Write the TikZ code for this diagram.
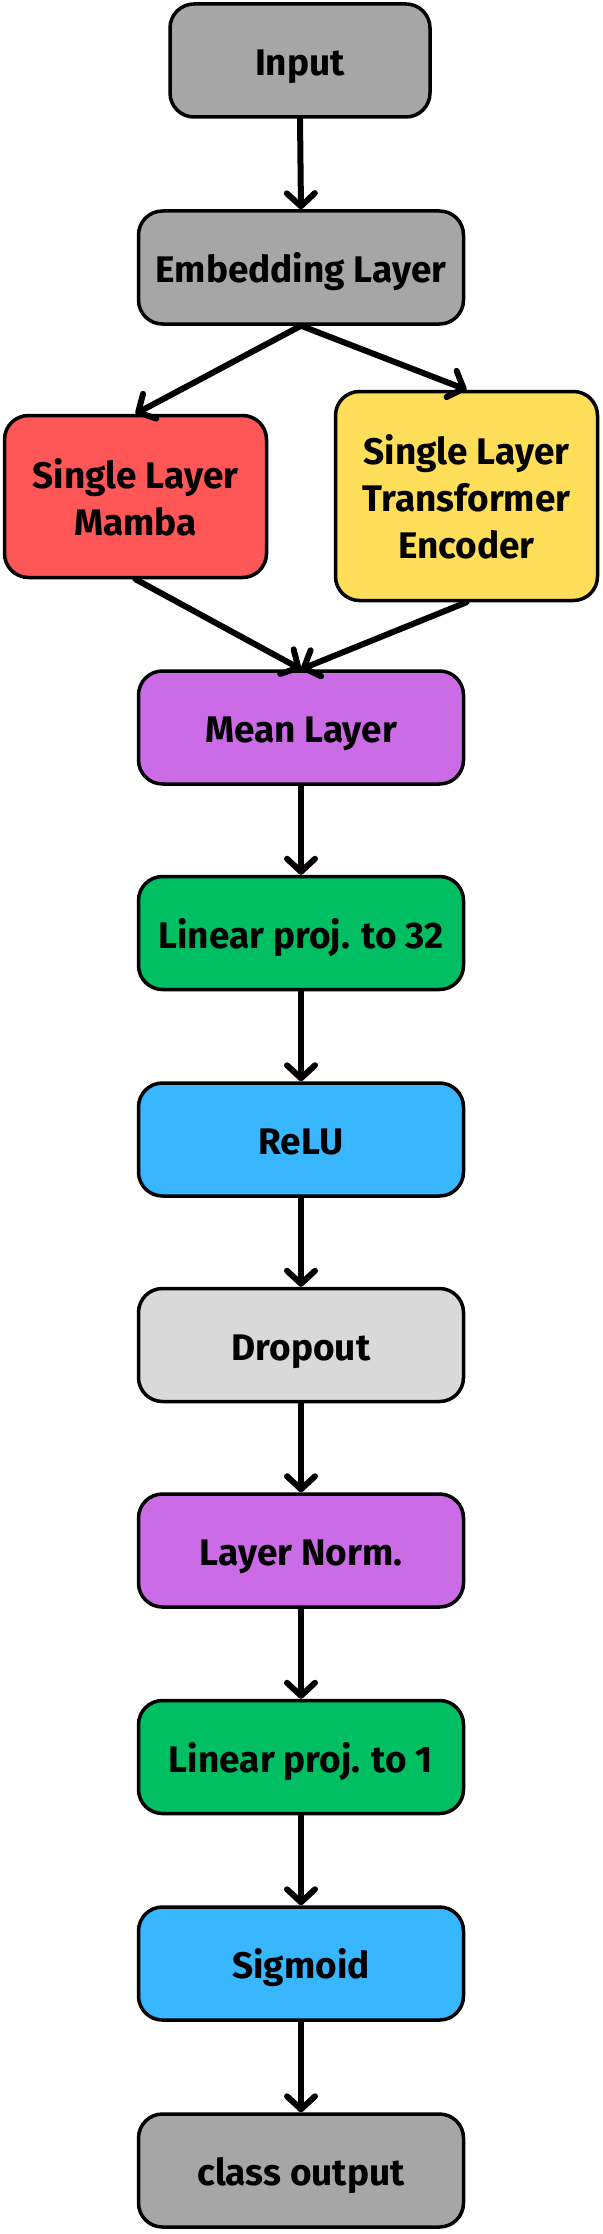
\documentclass[tikz,border=0pt]{standalone}
\usepackage{fontspec}
\setmainfont{Fira Sans}
\usetikzlibrary{arrows.meta}
\definecolor{cgray}{HTML}{A6A6A6}
\definecolor{cred}{HTML}{FF5757}
\definecolor{cyellow}{HTML}{FFDE59}
\definecolor{cpurple}{HTML}{CB6CE6}
\definecolor{cgreen}{HTML}{00BF63}
\definecolor{cblue}{HTML}{38B6FF}
\definecolor{clight}{HTML}{D9D9D9}
% text block with fixed height/depth so that it sits where the reference puts it
\newcommand\bxt[3]{\raisebox{0pt}[#1][#2]{\begin{tabular}[t]{@{}c@{}}#3\end{tabular}}}
\newcommand\one[1]{\bxt{30pt}{0pt}{#1}}
\begin{document}
\begin{tikzpicture}[x=1pt,y=-1pt,
  box/.style={draw=black, line width=3.5pt, rounded corners=24pt, align=center,
    inner sep=0pt, minimum width=325pt, minimum height=113pt,
    font=\fontsize{37}{47}\selectfont\bfseries},
  arr/.style={line width=6pt, line cap=round,
    -{Straight Barb[length=13pt,width=28pt,line cap=round,line join=round]}}]
\useasboundingbox (0,0) rectangle (602,2234);
\node[box, fill=cgray, minimum width=260pt] (inp) at (300,60.5) {\one{Input}};
\node[box, fill=cgray] (emb) at (301,267.5) {\one{Embedding Layer}};
\node[box, fill=cred, minimum width=262pt, minimum height=162pt] (mamba) at (135.5,496.5) {\bxt{32.9pt}{49.9pt}{Single Layer\\Mamba}};
\node[box, fill=cyellow, minimum width=262pt, minimum height=209pt] (trans) at (466.5,496) {\bxt{32.9pt}{95.9pt}{Single Layer\\Transformer\\Encoder}};
\node[box, fill=cpurple] (mean) at (301,727.5) {\one{Mean Layer}};
\node[box, fill=cgreen] (lin32) at (301,933) {\one{Linear proj. to 32}};
\node[box, fill=cblue] (relu) at (301,1139.5) {\one{ReLU}};
\node[box, fill=clight] (drop) at (301,1345) {\one{Dropout}};
\node[box, fill=cpurple] (norm) at (301,1550.5) {\one{Layer Norm.}};
\node[box, fill=cgreen] (lin1) at (301,1757) {\one{Linear proj. to 1}};
\node[box, fill=cblue] (sig) at (301,1963.5) {\one{Sigmoid}};
\node[box, fill=cgray] (out) at (301,2170.5) {\one{class output}};
\draw[arr] (inp.south) -- (emb.north);
\draw[arr] (emb.south) -- (mamba.north);
\draw[arr] (emb.south) -- (trans.north);
\draw[arr] (mamba.south) -- (mean.north);
\draw[arr] (trans.south) -- (mean.north);
\draw[arr] (mean.south) -- (lin32.north);
\draw[arr] (lin32.south) -- (relu.north);
\draw[arr] (relu.south) -- (drop.north);
\draw[arr] (drop.south) -- (norm.north);
\draw[arr] (norm.south) -- (lin1.north);
\draw[arr] (lin1.south) -- (sig.north);
\draw[arr] (sig.south) -- (out.north);
\end{tikzpicture}
\end{document}
